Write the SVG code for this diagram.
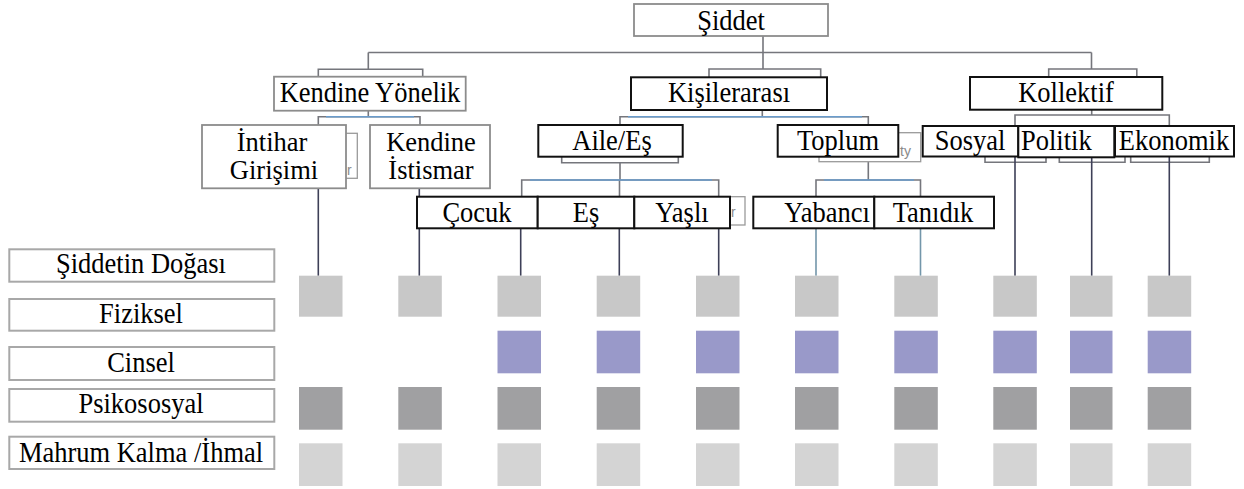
<svg xmlns="http://www.w3.org/2000/svg" width="1244" height="489" viewBox="0 0 1244 489">
<style>
  .t{font-size:26.5px;fill:#000;text-anchor:middle}
  .g{fill:#fff;stroke:#8c8c8c;stroke-width:1.8}
  .b{fill:#fff;stroke:#111;stroke-width:2}
  .lab{fill:#fff;stroke:#a8a8a8;stroke-width:2}
  .ghost{fill:#fff;stroke:#9a9a9a;stroke-width:1.3}
  .gt{font-size:14px;fill:#8a8a8a;text-anchor:start}
  .ln{fill:none;stroke:#75767c;stroke-width:1.6}
  .bl{fill:none;stroke:#6a9ccc;stroke-width:1.6}
  .dk{fill:none;stroke:#3e4058;stroke-width:1.6}
  .tl{fill:none;stroke:#7396aa;stroke-width:1.6}
  .s1{fill:#c8c8c8}.s2{fill:#9999c9}.s3{fill:#a0a0a2}.s4{fill:#d4d4d4}
</style>

<g id="connectors">
  <path class="ln" d="M763,36 V69 M368.3,52.5 H1091.5 M368.3,52.5 V69.3 M1091.5,52.5 V69"/>
  <path class="ln" d="M318.3,77 V69.3 H422.7 V77 M709,77.3 V69 H820.7 V77.3 M1048.7,77 V69 H1136.8 V77"/>
  <path class="ln" d="M368.3,110.7 V116.7 M318.3,125 V116.7 H420 V125"/>
  <path class="bl" d="M326,116.7 H414"/>
  <path class="ln" d="M762.3,110 V116.7 M620,125 V116.7 H868.3 V125"/>
  <path class="bl" d="M628,116.7 H862"/>
  <path class="ln" d="M1091.7,110 V115 M1015,126 V115 H1169.3 V126"/>
  <path class="ln" d="M561.7,157 V162.7 H678.3 V157"/>
  <path class="ln" d="M985,157 V162.3 H1046 V157 M1059.3,157 V162.3 H1125 V157 M1130.7,157 V162.3 H1209.3 V157"/>
  <path class="ln" d="M620,162.7 V180 M521.7,197 V180 H718.7 V197 M619.5,180 V197"/>
  <path class="bl" d="M530,180 H712"/>
  <path class="ln" d="M868.3,161.7 V180 M816,197 V180 H920.5 V197"/>
  <path class="bl" d="M824,180 H914"/>
  <path class="dk" d="M318.3,188.3 V275.7 M419.3,188.3 V275.7 M520.7,228.3 V275.7 M619.3,228.3 V275.7 M718.7,228.3 V275.7 M1015,157 V275.7 M1091.7,157 V275.7 M1169.3,157 V275.7"/>
  <path class="tl" d="M816,228.3 V275.7 M920.5,228.3 V275.7"/>
</g>

<g font-family="'Liberation Serif', Tinos, 'Times New Roman', Times, 'DejaVu Serif', serif">
<g id="n-siddet"><rect class="g" x="634" y="4" width="194" height="32"/><text class="t" transform="translate(731,30) scale(1,1.1)">Şiddet</text></g>

<g id="n-kendine-yonelik"><rect class="g" x="274" y="76.7" width="191.7" height="34"/><text class="t" transform="translate(370,102) scale(1,1.1)">Kendine Yönelik</text></g>
<g id="n-kisilerarasi"><rect class="b" x="631" y="77.3" width="196" height="32.7"/><text class="t" transform="translate(729,102.3) scale(1,1.1)">Kişilerarası</text></g>
<g id="n-kollektif"><rect class="b" x="970" y="77" width="192.3" height="32.7"/><text class="t" transform="translate(1066,102) scale(1,1.1)">Kollektif</text></g>

<g id="ghost-r1"><rect class="ghost" x="300" y="133.3" width="57.3" height="45"/><text class="gt" font-family="'Liberation Sans', Arial, sans-serif" x="347" y="175">r</text></g>
<g id="n-intihar"><rect class="g" x="202" y="125" width="144" height="63.3"/><text class="t" transform="translate(272,151) scale(1,1.05)">İntihar</text><text class="t" transform="translate(274,179) scale(1,1.05)">Girişimi</text></g>
<g id="n-kendine-istismar"><rect class="g" x="370" y="125" width="120" height="63.3"/><text class="t" transform="translate(431,151) scale(1,1.05)">Kendine</text><text class="t" transform="translate(431,179) scale(1,1.05)">İstismar</text></g>

<g id="n-aile"><rect class="b" x="538.3" y="125" width="144.4" height="31.7"/><text class="t" transform="translate(612,150) scale(1,1.1)">Aile/Eş</text></g>
<g id="ghost-ty"><rect class="ghost" x="819" y="132.7" width="101.7" height="29"/><text class="gt" font-family="'Liberation Sans', Arial, sans-serif" x="900" y="156">ty</text></g>
<g id="n-toplum"><rect class="b" x="777.7" y="125" width="120.6" height="31.7"/><text class="t" transform="translate(838,150) scale(1,1.1)">Toplum</text></g>

<g id="n-sosyal"><rect class="b" x="922.7" y="126" width="95.6" height="30.5"/><text class="t" transform="translate(970,150) scale(1,1.1)">Sosyal</text></g>
<g id="n-politik"><rect class="b" x="1018.3" y="126" width="96" height="31.3"/><text class="t" transform="translate(1021,150) scale(1,1.1)" style="text-anchor:start">Politik</text></g>
<g id="n-ekonomik"><rect class="b" x="1115" y="126" width="119" height="30.5"/><text class="t" transform="translate(1174,150) scale(1,1.1)">Ekonomik</text></g>

<g id="ghost-r2"><rect class="ghost" x="700" y="196.7" width="45" height="28.3"/><text class="gt" font-family="'Liberation Sans', Arial, sans-serif" x="731" y="217">r</text></g>
<g id="n-cocuk"><rect class="b" x="417" y="196.7" width="120.7" height="31.6"/><text class="t" transform="translate(477,221.5) scale(1,1.1)">Çocuk</text></g>
<g id="n-es"><rect class="b" x="537.7" y="196.7" width="96.6" height="31.6"/><text class="t" transform="translate(586,221.5) scale(1,1.1)">Eş</text></g>
<g id="n-yasli"><rect class="b" x="634.3" y="196.7" width="95.7" height="31.6"/><text class="t" transform="translate(682,221.5) scale(1,1.1)">Yaşlı</text></g>
<g id="n-yabanci"><rect class="b" x="753.3" y="196.7" width="121" height="31.6"/><text class="t" transform="translate(827,221.5) scale(1,1.1)">Yabancı</text></g>
<g id="n-tanidik"><rect class="b" x="874.3" y="196.7" width="119.7" height="31.6"/><text class="t" transform="translate(933,221.5) scale(1,1.1)">Tanıdık</text></g>

<g id="row-labels">
  <g id="l-doga"><rect class="lab" x="9.3" y="249.3" width="265" height="32.4"/><text class="t" transform="translate(141,273.3) scale(1,1.1)">Şiddetin Doğası</text></g>
  <g id="l-fiziksel"><rect class="lab" x="9.3" y="299" width="265" height="31.7"/><text class="t" transform="translate(141,323.3) scale(1,1.1)">Fiziksel</text></g>
  <g id="l-cinsel"><rect class="lab" x="9.3" y="347" width="265" height="33"/><text class="t" transform="translate(141,371.7) scale(1,1.1)">Cinsel</text></g>
  <g id="l-psiko"><rect class="lab" x="9.3" y="389" width="265" height="32.7"/><text class="t" transform="translate(141,413.3) scale(1,1.1)">Psikososyal</text></g>
  <g id="l-mahrum"><rect class="lab" x="9.3" y="436.7" width="265" height="32.3"/><text class="t" transform="translate(141,461.7) scale(1,1.1)">Mahrum Kalma /İhmal</text></g>
</g>
</g>

<g id="squares">
  <g class="s1">
    <rect x="299" y="275.7" width="43.5" height="41"/><rect x="398.3" y="275.7" width="43.5" height="41"/><rect x="497.5" y="275.7" width="43.5" height="41"/><rect x="596.7" y="275.7" width="43.5" height="41"/><rect x="696" y="275.7" width="43.5" height="41"/><rect x="795" y="275.7" width="43.5" height="41"/><rect x="894.3" y="275.7" width="43.5" height="41"/><rect x="993.3" y="275.7" width="43.5" height="41"/><rect x="1070" y="275.7" width="42.5" height="41"/><rect x="1147.7" y="275.7" width="43.5" height="41"/>
  </g>
  <g class="s2">
    <rect x="497.5" y="330.7" width="43.5" height="42.6"/><rect x="596.7" y="330.7" width="43.5" height="42.6"/><rect x="696" y="330.7" width="43.5" height="42.6"/><rect x="795" y="330.7" width="43.5" height="42.6"/><rect x="894.3" y="330.7" width="43.5" height="42.6"/><rect x="993.3" y="330.7" width="43.5" height="42.6"/><rect x="1070" y="330.7" width="42.5" height="42.6"/><rect x="1147.7" y="330.7" width="43.5" height="42.6"/>
  </g>
  <g class="s3">
    <rect x="299" y="387" width="43.5" height="42.7"/><rect x="398.3" y="387" width="43.5" height="42.7"/><rect x="497.5" y="387" width="43.5" height="42.7"/><rect x="596.7" y="387" width="43.5" height="42.7"/><rect x="696" y="387" width="43.5" height="42.7"/><rect x="795" y="387" width="43.5" height="42.7"/><rect x="894.3" y="387" width="43.5" height="42.7"/><rect x="993.3" y="387" width="43.5" height="42.7"/><rect x="1070" y="387" width="42.5" height="42.7"/><rect x="1147.7" y="387" width="43.5" height="42.7"/>
  </g>
  <g class="s4">
    <rect x="299" y="443.3" width="43.5" height="42.7"/><rect x="398.3" y="443.3" width="43.5" height="42.7"/><rect x="497.5" y="443.3" width="43.5" height="42.7"/><rect x="596.7" y="443.3" width="43.5" height="42.7"/><rect x="696" y="443.3" width="43.5" height="42.7"/><rect x="795" y="443.3" width="43.5" height="42.7"/><rect x="894.3" y="443.3" width="43.5" height="42.7"/><rect x="993.3" y="443.3" width="43.5" height="42.7"/><rect x="1070" y="443.3" width="42.5" height="42.7"/><rect x="1147.7" y="443.3" width="43.5" height="42.7"/>
  </g>
</g>
</svg>
